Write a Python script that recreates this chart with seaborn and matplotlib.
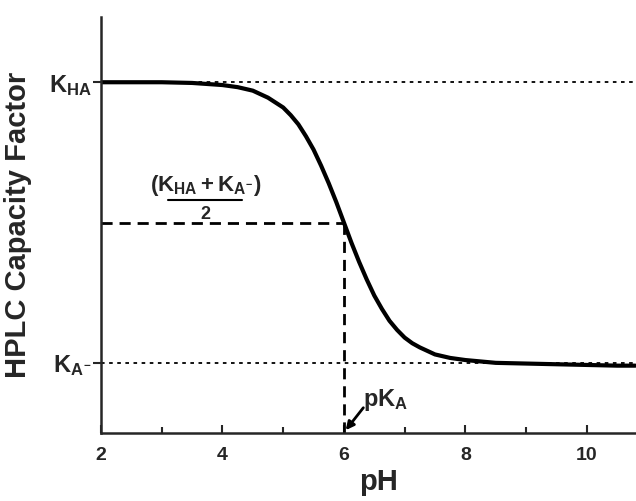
import numpy as np
import pandas as pd
import matplotlib
matplotlib.use("Agg")
import matplotlib.pyplot as plt
import seaborn as sns
from matplotlib.ticker import FixedLocator

# data
ph = [2.0, 2.5, 3.0, 3.5, 4.0, 4.25, 4.5, 4.75, 5.0, 5.125, 5.25, 5.375, 5.5, 5.625,
      5.75, 5.875, 6.0, 6.125, 6.25, 6.375, 6.5, 6.625, 6.75, 6.875, 7.0, 7.125,
      7.25, 7.5, 7.75, 8.0, 8.5, 9.0, 9.5, 10.0, 10.5, 10.8]
capacity = [5.00, 5.00, 5.00, 4.99, 4.96, 4.93, 4.88, 4.78, 4.64, 4.53, 4.40, 4.23, 4.04, 3.81,
            3.56, 3.29, 3.00, 2.71, 2.44, 2.19, 1.96, 1.77, 1.60, 1.47, 1.36, 1.28,
            1.22, 1.12, 1.07, 1.04, 1.00, 0.99, 0.98, 0.97, 0.96, 0.96]
k_ha = 5.0
k_a = 1.0
pka = 6.0
x_ticks = [2, 4, 6, 8, 10]
x_minor = [3, 5, 7, 9]

sns.set_style("ticks")
plt.rcParams['font.family'] = ['Liberation Sans', 'DejaVu Sans']
plt.rcParams['font.weight'] = 'bold'
plt.rcParams['mathtext.fontset'] = 'custom'
plt.rcParams['mathtext.rm'] = 'Liberation Sans:bold'
plt.rcParams['mathtext.it'] = 'Liberation Sans:bold'
plt.rcParams['mathtext.bf'] = 'Liberation Sans:bold'

fig = plt.figure(figsize=(6.36, 5.01), dpi=100)
ax = fig.add_axes([101/636, 68/501, 1 - 101/636, 416/501])

df = pd.DataFrame({"pH": ph, "k": capacity})
sns.lineplot(data=df, x="pH", y="k", ax=ax, color="black", lw=3.0)

xmax = 10.81
ax.set_xlim(2, xmax)
ax.set_ylim(0, 5.93)

# reference lines
ax.plot([2, xmax], [k_ha, k_ha], color="black", lw=1.3, ls=(0, (2, 2.5)))
ax.plot([2, xmax], [k_a, k_a], color="black", lw=1.3, ls=(0, (2, 2.5)))
mid = (k_ha + k_a) / 2
ax.plot([2, pka], [mid, mid], color="black", lw=2.0, ls=(0, (4, 2.5)))
ax.plot([pka, pka], [0, mid], color="black", lw=2.0, ls=(0, (4, 2.5)))

for s in ["top", "right"]:
    ax.spines[s].set_visible(False)
for s in ["left", "bottom"]:
    ax.spines[s].set_linewidth(1.8)

ax.xaxis.set_major_locator(FixedLocator(x_ticks))
ax.xaxis.set_minor_locator(FixedLocator(x_minor))
ax.tick_params(axis="x", which="major", direction="in", length=6, width=1.5,
               labelsize=14, pad=10)
ax.tick_params(axis="x", which="minor", direction="in", length=4, width=1.5)
ax.set_xticklabels([str(t) for t in x_ticks], fontweight="bold")

ax.set_yticks([k_a, k_ha])
ax.set_yticklabels([r'$K_{A^{-}}$', r'$K_{HA}$'])
ax.tick_params(axis="y", direction="out", length=6, width=1.5, labelsize=17, pad=1)

ax.set_xlabel("pH", fontsize=21, fontweight="bold")
ax.xaxis.set_label_coords((379 - 101) / 535, -(482 - 433) / 416)
ax.xaxis.label.set_va("center")
ax.set_ylabel("HPLC Capacity Factor", fontsize=21, fontweight="bold")
ax.yaxis.set_label_coords(-(101 - 18) / 535, (433 - 225) / 416)
ax.yaxis.label.set_va("center")

# fraction annotation
ax.text(3.72, 3.53, r'$(K_{HA} + K_{A^{-}})$', fontsize=16, ha="center", va="center")
ax.plot([3.11, 4.33], [3.32, 3.32], color="black", lw=1.5)
ax.text(3.72, 3.12, "2", fontsize=13, ha="center", va="center", fontweight="bold")

# pKa annotation
ax.text(6.69, 0.47, r'$pK_{A}$', fontsize=17, ha="center", va="center")
ax.annotate("", xy=(pka + 0.03, 0.04), xytext=(6.32, 0.36),
            arrowprops=dict(arrowstyle="-|>", color="black", lw=2.0,
                            shrinkA=0, shrinkB=0, mutation_scale=12))

fig.savefig("out.png", dpi=100)
